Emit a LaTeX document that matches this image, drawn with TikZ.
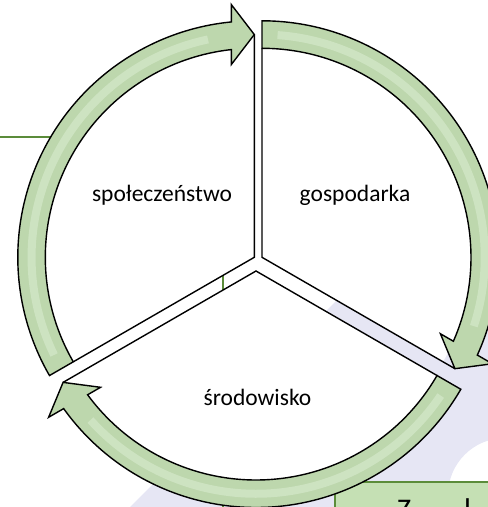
\documentclass[tikz,border=0pt]{standalone}
\usepackage{fontspec}
\setmainfont{Carlito}
\usetikzlibrary{calc}
\definecolor{bandfill}{HTML}{BDD7AD}
\definecolor{bandlight}{HTML}{D9EBCF}
\definecolor{lav}{HTML}{E6E6F4}
\definecolor{boxgreen}{HTML}{C5E0B4}
\definecolor{gline}{HTML}{5B8C3A}
\tikzset{
  outline/.style={draw=black, line width=1.4pt, line join=miter},
  lbl/.style={font=\fontsize{23.5}{27}\selectfont, inner sep=0pt},
  greenline/.style={draw=gline, line width=1.4pt}
}
\newcommand\Ri{209}
\newcommand\Ro{236.5}
\newcommand\Rm{222.75}
\newcommand\hw{30}
\newcommand\hl{23}
% #1 apex, #2 tail angle, #3 head angle
\newcommand\bandpath[3]{%
  ($(#1)+(#2:\Ro)$) arc[start angle=#2, end angle={#3+asin(\hl/\Ro)}, radius=\Ro]
  -- ($(#1)+(#3:\Rm)+(#3+90:\hl)+(#3:\hw)$)
  -- ($(#1)+(#3:\Rm)$)
  -- ($(#1)+(#3:\Rm)+(#3+90:\hl)+(#3+180:\hw)$)
  -- ($(#1)+({#3+asin(\hl/\Ri)}:\Ri)$)
  arc[start angle={#3+asin(\hl/\Ri)}, end angle=#2, radius=\Ri] -- cycle}
\newcommand\segment[3]{%
  \fill[white] (#1) -- ($(#1)+(#2:\Ri)$) arc[start angle=#2, end angle=#3, radius=\Ri] -- cycle;
  \fill[bandfill] \bandpath{#1}{#2}{#3};
  \draw[bandlight, line width=8pt, opacity=0.6] ($(#1)+({#2-4}:\Rm)$) arc[start angle={#2-4}, end angle={#3+12}, radius=\Rm];
  \draw[outline] \bandpath{#1}{#2}{#3};
  \draw[outline] ($(#1)+(#2:\Ri)$) -- (#1) -- ($(#1)+(#3:\Rm)$);
}
\begin{document}
\begin{tikzpicture}[x=1pt,y=1pt]
\useasboundingbox (0,0) rectangle (488,-507);
\clip (0,0) rectangle (488,-507);
% background
\fill[lav, even odd rule] (130,-507) -- (337,-300) -- (400,-237) -- (495,-237) -- (495,-515) -- (130,-515) -- cycle
  (505,-495) circle (57);
\draw[greenline] (-5,-137) rectangle (223,-520);
\draw[greenline, fill=boxgreen] (335,-482) rectangle (500,-530);
\node[anchor=base west, font=\fontsize{30}{34}\selectfont, inner sep=0pt] (zt) at (397,-519) {Z};
\node[anchor=base west, font=\fontsize{30}{34}\selectfont, inner sep=0pt] (lt) at (464,-519) {l};
% apexes
\coordinate (L) at (254.3,-257.3);
\coordinate (R) at (262,-257.3);
\coordinate (B) at (256,-271);
\segment{L}{210}{90}
\segment{R}{90}{-30}
\segment{B}{330}{210}
\node[lbl] (spo) at (162,-195) {społeczeństwo};
\node[lbl] (gos) at (355,-195) {gospodarka};
\node[lbl] (sro) at (257.5,-397) {środowisko};
\end{tikzpicture}
\end{document}
